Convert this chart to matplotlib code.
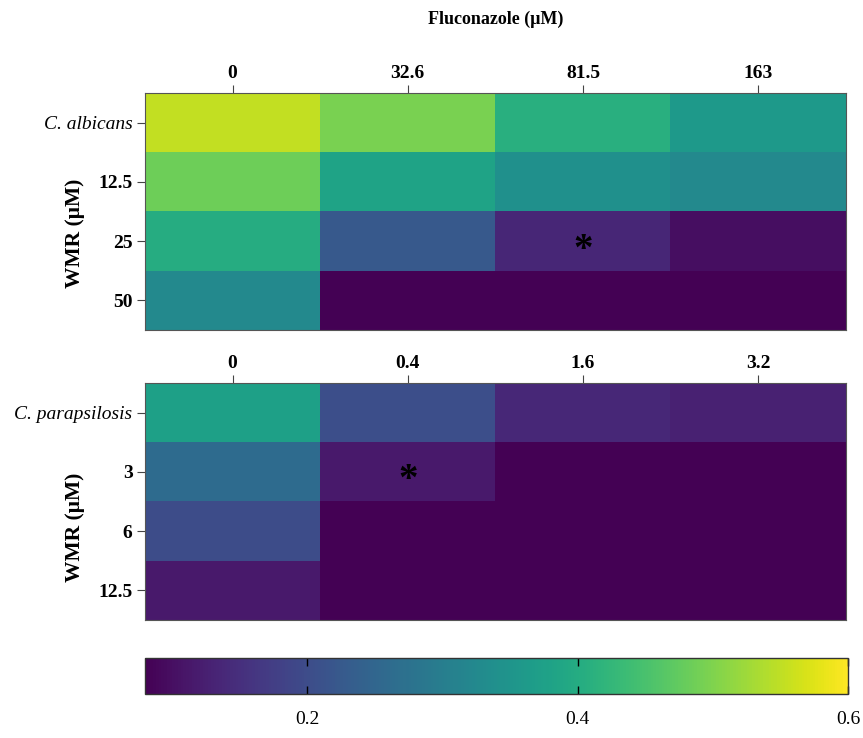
import numpy as np
import matplotlib.pyplot as plt
from matplotlib import colors

plt.rcParams['font.family'] = ['Liberation Serif', 'DejaVu Serif']

# fluconazole concentrations (columns)
flu_albicans = ['0', '32.6', '81.5', '163']
flu_parap = ['0', '0.4', '1.6', '3.2']

# WMR concentrations (rows), first row is the untreated strain
wmr_albicans = ['C. albicans', '12.5', '25', '50']
wmr_parap = ['C. parapsilosis', '3', '6', '12.5']

# OD values
od_albicans = [
    [0.553, 0.496, 0.408, 0.361],
    [0.486, 0.382, 0.340, 0.324],
    [0.402, 0.226, 0.135, 0.100],
    [0.324, 0.080, 0.080, 0.080],
]
od_parap = [
    [0.376, 0.205, 0.137, 0.127],
    [0.262, 0.116, 0.080, 0.080],
    [0.200, 0.080, 0.080, 0.080],
    [0.116, 0.080, 0.080, 0.080],
]

# cells marked with an asterisk (row, col)
star_albicans = (2, 2)
star_parap = (1, 1)

vmin, vmax = 0.08, 0.6
norm = colors.Normalize(vmin=vmin, vmax=vmax)

fig = plt.figure(figsize=(8.63, 7.38), dpi=100)
ax1 = fig.add_axes([0.168, 0.5528, 0.812, 0.321])
ax2 = fig.add_axes([0.168, 0.16, 0.812, 0.321])
cax = fig.add_axes([0.168, 0.0596, 0.815, 0.0488])


def draw_panel(ax, data, xlabels, ylabels, star, label_y):
    im = ax.imshow(np.array(data), cmap='viridis', norm=norm, aspect='auto')
    ax.xaxis.tick_top()
    ax.set_xticks(range(len(xlabels)))
    ax.set_xticklabels(xlabels, fontsize=14, fontweight='bold')
    ax.set_yticks(range(len(ylabels)))
    ax.set_yticklabels(ylabels, fontsize=14)
    tl = ax.get_yticklabels()
    tl[0].set_fontstyle('italic')
    for t in tl[1:]:
        t.set_fontweight('bold')
    ax.tick_params(axis='both', length=6, width=0.8, color='#444444', pad=3)
    ax.tick_params(axis='x', pad=2)
    for s in ax.spines.values():
        s.set_color('#555555')
        s.set_linewidth(0.8)
    ax.set_ylabel('WMR (\u03bcM)', fontsize=15.5, fontweight='bold')
    ax.yaxis.set_label_coords(-0.085, label_y)
    r, c = star
    ax.text(c, r + 0.15, '*', ha='center', va='center', fontsize=28,
            fontweight='bold', color='black')
    return im


im = draw_panel(ax1, od_albicans, flu_albicans, wmr_albicans, star_albicans, 0.41)
draw_panel(ax2, od_parap, flu_parap, wmr_parap, star_parap, 0.39)

fig.text(0.574, 0.985, 'Fluconazole (\u03bcM)', ha='center', va='top',
         fontsize=13, fontweight='bold')

cb = fig.colorbar(im, cax=cax, orientation='horizontal')
cb.set_ticks([0.2, 0.4, 0.6])
cb.set_ticklabels(['0.2', '0.4', '0.6'])
cax.xaxis.set_ticks_position('both')
cax.tick_params(axis='x', direction='in', length=6, width=1, color='black',
                labelsize=14, pad=12)
cb.outline.set_linewidth(1)
cb.outline.set_edgecolor('#333333')

fig.savefig('out.png', dpi=100)
